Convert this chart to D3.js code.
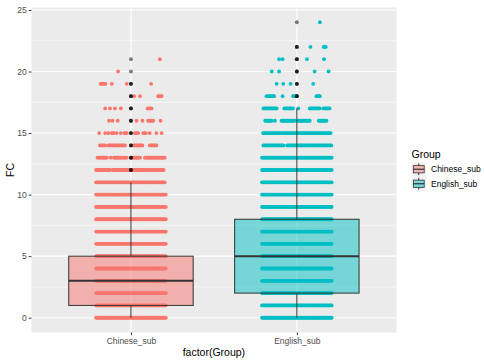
<!DOCTYPE html>
<html><head><meta charset="utf-8">
<script src="https://cdn.jsdelivr.net/npm/d3@7"></script>
<style>body{margin:0;background:#fff}svg{display:block;font-family:"Liberation Sans",Arial,sans-serif}</style>
</head><body><svg id="c" width="484" height="364"></svg>
<script>
// ---- data ----
const categories = ["Chinese_sub", "English_sub"];
const colors = ["#F8766D", "#00BFC4"];
const q1 = [1, 2];
const medians = [3, 5];
const q3 = [5, 8];
const whiskerLo = [0, 0];
const whiskerHi = [11, 17];
const yTicks = [0, 5, 10, 15, 20, 25];
// outliers (repeated values overlap and darken)
const chineseOutliers = [12,12,12,13,13,13,14,14,14,15,15,15,16,16,16,17,17,17,18,18,18,19,19,19,20,21];
const englishOutliers = [18,18,18,19,19,19,20,20,20,21,21,21,22,22,22,24];
// jittered points: value and horizontal jitter spans (fraction of jitter width)
const full = [[-1, 1]];
const chineseJitter = [
  {v:0,spans:full},{v:1,spans:full},{v:2,spans:full},{v:3,spans:full},{v:4,spans:full},
  {v:5,spans:full},{v:6,spans:full},{v:7,spans:full},{v:8,spans:full},{v:9,spans:full},{v:10,spans:full},
  {v:11,spans:[[-1,0.14],[0.18,0.97]]},
  {v:12,spans:[[-1,-0.6],[-0.52,0.47],[0.52,0.64],[0.69,0.94]]},
  {v:13,spans:[[-0.96,-0.69],[-0.58,-0.58],[-0.49,-0.12],[0.02,0.26],[0.4,0.97]]},
  {v:14,spans:[[-0.89,-0.74],[-0.65,-0.17],[0.07,0.33],[0.54,0.73]]},
  {v:15,spans:[[-0.91,-0.91],[-0.74,-0.74],[-0.65,-0.65],[-0.55,-0.49],[-0.41,-0.41],[-0.29,-0.29],[-0.19,-0.12],[0.11,0.21],[0.35,0.43],[0.54,0.54],[0.73,0.73],[0.88,0.88]]},
  {v:16,spans:[[-0.63,-0.63],[-0.53,-0.53],[-0.38,-0.38],[0.16,0.16],[0.33,0.33],[0.49,0.64],[0.85,0.85]]},
  {v:17,spans:[[-0.74,-0.74],[-0.6,-0.6],[-0.46,-0.46],[-0.29,-0.29],[0.48,0.59]]},
  {v:18,spans:[[0.09,0.09],[0.26,0.26],[0.78,0.88]]},
  {v:19,spans:[[-0.87,-0.73],[-0.55,-0.55],[-0.12,-0.12],[0.58,0.58]]},
  {v:20,spans:[[-0.37,-0.37]]},
  {v:21,spans:[[0.83,0.83]]}
];
const englishJitter = [
  {v:0,spans:full},{v:1,spans:full},{v:2,spans:full},{v:3,spans:full},{v:4,spans:full},
  {v:5,spans:full},{v:6,spans:full},{v:7,spans:full},{v:8,spans:full},{v:9,spans:full},
  {v:10,spans:full},{v:11,spans:full},{v:12,spans:full},{v:13,spans:full},
  {v:14,spans:[[-0.96,-0.39],[-0.28,0.99]]},
  {v:15,spans:[[-0.97,-0.45],[-0.4,0.97]]},
  {v:16,spans:[[-0.91,-0.72],[-0.63,-0.63],[-0.44,-0.06],[0.04,0.37],[0.63,0.85]]},
  {v:17,spans:[[-0.96,-0.58],[-0.36,-0.11],[0.04,0.04],[0.37,0.66],[0.77,0.94]]},
  {v:18,spans:[[-0.87,-0.65],[-0.41,-0.41],[-0.11,-0.01],[0.56,0.66]]},
  {v:19,spans:[[-0.58,-0.58],[-0.39,-0.39],[-0.18,-0.18],[0.47,0.47]]},
  {v:20,spans:[[-0.72,-0.72],[-0.51,-0.51],[0.51,0.51],[0.91,0.91]]},
  {v:21,spans:[[-0.51,-0.51],[-0.41,-0.41],[0.29,0.29],[0.78,0.78]]},
  {v:22,spans:[[0.39,0.39],[0.77,0.83]]},
  {v:24,spans:[[0.66,0.66]]}
];
const jitterSets = [chineseJitter, englishJitter];
const outlierSets = [chineseOutliers, englishOutliers];

// ---- layout ----
const svg = d3.select("#c");
const P = {l: 31.4, r: 396.4, t: 7.5, b: 332.5};
const x = d3.scaleLinear().domain([0.4, 2.6]).range([P.l, P.r]);
const y = d3.scaleLinear().domain([-1.2, 25.2]).range([P.b, P.t]);
const boxW = 0.75, jitW = 0.21;

svg.append("rect").attr("x", P.l).attr("y", P.t).attr("width", P.r - P.l).attr("height", P.b - P.t).attr("fill", "#EBEBEB");
const minor = d3.range(2.5, 25, 5);
svg.selectAll(".ymin").data(minor).enter().append("line")
  .attr("x1", P.l).attr("x2", P.r).attr("y1", d => y(d)).attr("y2", d => y(d))
  .attr("stroke", "#fff").attr("stroke-width", 0.55);
svg.selectAll(".ymaj").data(yTicks).enter().append("line")
  .attr("x1", P.l).attr("x2", P.r).attr("y1", d => y(d)).attr("y2", d => y(d))
  .attr("stroke", "#fff").attr("stroke-width", 1.1);
svg.selectAll(".xmaj").data(categories).enter().append("line")
  .attr("x1", (d, i) => x(i + 1)).attr("x2", (d, i) => x(i + 1)).attr("y1", P.t).attr("y2", P.b)
  .attr("stroke", "#fff").attr("stroke-width", 1.1);

// jitter points
const pts = [];
jitterSets.forEach((rows, gi) => {
  rows.forEach(r => {
    r.spans.forEach(([a, b]) => {
      const xa = x(gi + 1 + a * jitW), xb = x(gi + 1 + b * jitW);
      const n = Math.max(1, Math.round((xb - xa) / 1.2) + 1);
      for (let k = 0; k < n; k++) {
        pts.push({g: gi, px: n === 1 ? xa : xa + (xb - xa) * k / (n - 1), v: r.v});
      }
    });
  });
});
svg.append("g").selectAll("circle").data(pts).enter().append("circle")
  .attr("cx", d => d.px).attr("cy", d => y(d.v)).attr("r", 1.9)
  .attr("fill", d => colors[d.g]);

// boxplots
categories.forEach((c, i) => {
  const g = svg.append("g");
  const cx = x(i + 1), x0 = x(i + 1 - boxW / 2), x1 = x(i + 1 + boxW / 2);
  g.append("line").attr("x1", cx).attr("x2", cx).attr("y1", y(whiskerHi[i])).attr("y2", y(q3[i])).attr("stroke", "#333").attr("stroke-width", 1);
  g.append("line").attr("x1", cx).attr("x2", cx).attr("y1", y(q1[i])).attr("y2", y(whiskerLo[i])).attr("stroke", "#333").attr("stroke-width", 1);
  g.append("rect").attr("x", x0).attr("y", y(q3[i])).attr("width", x1 - x0).attr("height", y(q1[i]) - y(q3[i]))
    .attr("fill", colors[i]).attr("fill-opacity", 0.5).attr("stroke", "#333").attr("stroke-width", 1);
  g.append("line").attr("x1", x0).attr("x2", x1).attr("y1", y(medians[i])).attr("y2", y(medians[i])).attr("stroke", "#333").attr("stroke-width", 2);
  g.selectAll("circle").data(outlierSets[i]).enter().append("circle")
    .attr("cx", cx).attr("cy", d => y(d)).attr("r", 1.9).attr("fill", "#000").attr("fill-opacity", 0.5);
});

// axes
const yAxis = svg.append("g").attr("transform", `translate(${P.l},0)`)
  .call(d3.axisLeft(y).tickValues(yTicks).tickSize(2.7).tickPadding(2));
const xAxis = svg.append("g").attr("transform", `translate(0,${P.b})`)
  .call(d3.axisBottom(x).tickValues([1, 2]).tickFormat((d) => categories[d - 1]).tickSize(2.7).tickPadding(2.5));
[yAxis, xAxis].forEach(a => {
  a.select(".domain").remove();
  a.selectAll(".tick line").attr("stroke", "#333").attr("stroke-width", 1);
  a.selectAll(".tick text").attr("fill", "#4D4D4D").style("font-size", "8.5px").style("font-family", "Liberation Sans, Arial, sans-serif");
});
svg.append("text").attr("x", x(1.5)).attr("y", 356).attr("text-anchor", "middle")
  .style("font-size", "10.5px").attr("fill", "#000").text("factor(Group)");
svg.append("text").attr("transform", `translate(14,${(P.t + P.b) / 2}) rotate(-90)`).attr("text-anchor", "middle")
  .style("font-size", "10.5px").attr("fill", "#000").text("FC");

// legend
const L = svg.append("g").attr("transform", "translate(411.5,0)");
L.append("text").attr("x", 0).attr("y", 158).style("font-size", "10.5px").text("Group");
const ks = 14.5;
categories.forEach((c, i) => {
  const ky = 162 + i * ks;
  const k = L.append("g").attr("transform", `translate(0,${ky})`);
  k.append("rect").attr("width", ks).attr("height", ks).attr("fill", "#F2F2F2");
  k.append("line").attr("x1", ks / 2).attr("x2", ks / 2).attr("y1", ks * 0.1).attr("y2", ks * 0.25).attr("stroke", "#333");
  k.append("line").attr("x1", ks / 2).attr("x2", ks / 2).attr("y1", ks * 0.75).attr("y2", ks * 0.9).attr("stroke", "#333");
  k.append("rect").attr("x", ks * 0.125).attr("y", ks * 0.25).attr("width", ks * 0.75).attr("height", ks * 0.5)
    .attr("fill", colors[i]).attr("fill-opacity", 0.5).attr("stroke", "#333").attr("stroke-width", 0.8);
  k.append("line").attr("x1", ks * 0.125).attr("x2", ks * 0.875).attr("y1", ks / 2).attr("y2", ks / 2).attr("stroke", "#333").attr("stroke-width", 1.2);
  L.append("text").attr("x", ks + 5).attr("y", ky + ks / 2).attr("dy", "0.35em").style("font-size", "8.5px").attr("fill", "#000").text(c);
});
</script></body></html>
